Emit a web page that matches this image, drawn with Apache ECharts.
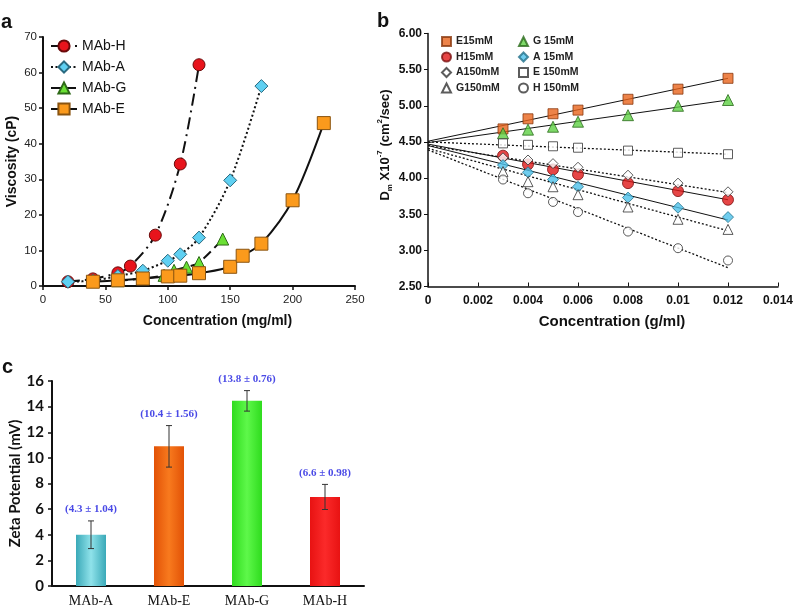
<!DOCTYPE html>
<html>
<head>
<meta charset="utf-8">
<script src="https://cdn.jsdelivr.net/npm/echarts@6/dist/echarts.min.js"></script>
<style>
  html, body { margin: 0; padding: 0; background: #fff; }
  #main { width: 798px; height: 607px; }
</style>
</head>
<body>
<div id="main"></div>
<script>
// panel a: viscosity vs concentration
var viscH_x = [20, 40, 60, 70, 90, 110, 125];
var viscH_y = [1.2, 2.0, 3.7, 5.6, 14.3, 34.3, 62.2];
var viscA_x = [20, 40, 60, 80, 100, 110, 125, 150, 175];
var viscA_y = [1.2, 1.5, 2.8, 4.3, 7.1, 8.9, 13.6, 29.7, 56.2];
var viscG_x = [60, 80, 97, 105, 115, 125, 144];
var viscG_y = [1.5, 2.1, 3.0, 4.4, 5.3, 6.6, 13.2];
var viscE_x = [40, 60, 80, 100, 110, 125, 150, 160, 175, 200, 225];
var viscE_y = [1.2, 1.6, 2.1, 2.7, 2.9, 3.6, 5.4, 8.5, 11.9, 24.1, 45.8];

// panel b: diffusion coefficient vs concentration
var dlsConc = [0.003, 0.004, 0.005, 0.006, 0.008, 0.010, 0.012];
var dE15  = [4.68, 4.82, 4.89, 4.94, 5.09, 5.23, 5.38];
var dG15  = [4.62, 4.67, 4.71, 4.78, 4.87, 5.00, 5.08];
var dE150 = [4.48, 4.46, 4.44, 4.42, 4.38, 4.35, 4.33];
var dH15  = [4.31, 4.19, 4.12, 4.05, 3.93, 3.82, 3.70];
var dA150 = [4.28, 4.25, 4.20, 4.15, 4.04, 3.93, 3.81];
var dA15  = [4.18, 4.08, 3.98, 3.88, 3.73, 3.59, 3.46];
var dG150 = [4.09, 3.95, 3.88, 3.77, 3.60, 3.43, 3.29];
var dH150 = [3.98, 3.79, 3.67, 3.53, 3.26, 3.03, 2.86];
// trend lines, read at x=0 and x=0.012
var fitX = [0, 0.012];
var fitE15  = [4.51, 5.38];
var fitG15  = [4.49, 5.08];
var fitE150 = [4.50, 4.33];
var fitH15  = [4.47, 3.70];
var fitA150 = [4.45, 3.80];
var fitA15  = [4.45, 3.42];
var fitG150 = [4.41, 3.27];
var fitH150 = [4.39, 2.76];

// panel c: zeta potential
var zetaCats = ['MAb-A', 'MAb-E', 'MAb-G', 'MAb-H'];
var zetaVals = [4.0, 10.9, 14.45, 6.95];
var zetaErr = [1.08, 1.62, 0.8, 0.98];
var zetaLabels = ['(4.3 \u00b1 1.04)', '(10.4 \u00b1 1.56)', '(13.8 \u00b1 0.76)', '(6.6 \u00b1 0.98)'];

var SANS = '"Liberation Sans", Arial, sans-serif';

function pairs(xs, ys) {
  var out = [];
  for (var i = 0; i < xs.length; i++) out.push([xs[i], ys[i]]);
  return out;
}

var chart = echarts.init(document.getElementById('main'), null, {renderer: 'canvas'});

var barColors = [
  ['#3aa9b8', '#8fe2ea', '#3aa9b8'],
  ['#e25206', '#f87a1e', '#e25206'],
  ['#2fdc1e', '#5ef84a', '#2fdc1e'],
  ['#e81212', '#fb2a2a', '#e81212']
];
var barData = zetaVals.map(function (v, i) {
  return {
    value: v,
    itemStyle: {
      color: new echarts.graphic.LinearGradient(0, 0, 1, 0, [
        {offset: 0, color: barColors[i][0]},
        {offset: 0.5, color: barColors[i][1]},
        {offset: 1, color: barColors[i][2]}
      ])
    }
  };
});
var errData = zetaVals.map(function (v, i) {
  return [i, v - zetaErr[i], v + zetaErr[i]];
});

function dlsPoints(name, ys, symbol, size, fill, border) {
  return {
    name: name, type: 'scatter', xAxisIndex: 1, yAxisIndex: 1,
    data: pairs(dlsConc, ys), symbol: symbol, symbolSize: size, z: 5,
    itemStyle: {color: fill, borderColor: border, borderWidth: 1}
  };
}
function dlsFit(name, ys, dotted) {
  return {
    name: name, type: 'line', xAxisIndex: 1, yAxisIndex: 1,
    data: pairs(fitX, ys), symbol: 'none', silent: true, z: 3,
    lineStyle: {color: '#111', width: dotted ? 1.3 : 1, type: dotted ? [2, 2] : 'solid'}
  };
}

var option = {
  backgroundColor: '#fff',
  animation: false,
  textStyle: {fontFamily: SANS},
  grid: [
    {left: 43, top: 37, width: 312, height: 249, outerBoundsMode: 'none'},
    {left: 428, top: 33.5, width: 350, height: 253, outerBoundsMode: 'none'},
    {left: 52, top: 381, width: 312, height: 205, outerBoundsMode: 'none'}
  ],
  legend: [
    {
      data: ['MAb-H', 'MAb-A', 'MAb-G', 'MAb-E'],
      orient: 'vertical', left: 45, top: 34, itemGap: 7,
      itemWidth: 26, itemHeight: 14,
      textStyle: {fontFamily: SANS, fontSize: 14, color: '#111'}
    },
    {
      data: ['E15mM', 'H15mM', 'A150mM', 'G150mM'],
      orient: 'vertical', left: 436, top: 31, itemGap: 4.5,
      itemWidth: 9, itemHeight: 9,
      textStyle: {fontFamily: SANS, fontSize: 10.5, fontWeight: 'bold', color: '#222', lineHeight: 11}
    },
    {
      data: ['G 15mM', 'A 15mM', 'E 150mM', 'H 150mM'],
      orient: 'vertical', left: 513, top: 31, itemGap: 4.5,
      itemWidth: 9, itemHeight: 9,
      textStyle: {fontFamily: SANS, fontSize: 10.5, fontWeight: 'bold', color: '#222', lineHeight: 11}
    }
  ],
  xAxis: [
    {
      gridIndex: 0, type: 'value', min: 0, max: 250, interval: 50,
      name: 'Concentration (mg/ml)', nameLocation: 'middle', nameGap: 28,
      nameTextStyle: {fontFamily: SANS, fontSize: 14, fontWeight: 'bold', color: '#111', padding: [0, 0, 0, 37]},
      axisLine: {lineStyle: {color: '#111', width: 2}},
      axisTick: {length: 4, lineStyle: {color: '#111', width: 1.5}},
      axisLabel: {fontSize: 11.5, color: '#222', margin: 8},
      splitLine: {show: false}
    },
    {
      gridIndex: 1, type: 'value', min: 0, max: 0.014, interval: 0.002,
      name: 'Concentration (g/ml)', nameLocation: 'middle', nameGap: 28,
      nameTextStyle: {fontFamily: SANS, fontSize: 15, fontWeight: 'bold', color: '#111', padding: [0, 0, 0, 18]},
      axisLine: {lineStyle: {color: '#111', width: 1.5}},
      axisTick: {inside: true, length: 4, lineStyle: {color: '#111'}},
      axisLabel: {fontSize: 12, fontWeight: 'bold', color: '#111', margin: 8,
        formatter: function (v) { return v === 0 ? '0' : String(+v.toFixed(3)); }},
      splitLine: {show: false}
    },
    {
      gridIndex: 2, type: 'category', data: zetaCats,
      axisLine: {lineStyle: {color: '#111', width: 2}},
      axisTick: {length: 5, lineStyle: {color: '#111', width: 1.5}},
      axisLabel: {fontFamily: '"Liberation Serif", serif', fontSize: 14, color: '#111', margin: 8}
    }
  ],
  yAxis: [
    {
      gridIndex: 0, type: 'value', min: 0, max: 70, interval: 10,
      name: 'Viscosity (cP)', nameLocation: 'middle', nameGap: 24,
      nameTextStyle: {fontFamily: SANS, fontSize: 14, fontWeight: 'bold', color: '#111'},
      axisLine: {show: true, lineStyle: {color: '#111', width: 2}},
      axisTick: {show: true, length: 4, lineStyle: {color: '#111', width: 1.5}},
      axisLabel: {fontSize: 11.5, color: '#222', margin: 6},
      splitLine: {show: false}
    },
    {
      gridIndex: 1, type: 'value', min: 2.5, max: 6, interval: 0.5,
      axisLine: {show: true, lineStyle: {color: '#111', width: 1.5}},
      axisTick: {show: true, length: 4, lineStyle: {color: '#111'}},
      axisLabel: {fontSize: 12, fontWeight: 'bold', color: '#111', margin: 6,
        formatter: function (v) { return v.toFixed(2); }},
      splitLine: {show: false}
    },
    {
      gridIndex: 2, type: 'value', min: 0, max: 16, interval: 2,
      name: 'Zeta Potential (mV)', nameLocation: 'middle', nameGap: 28,
      nameTextStyle: {fontFamily: 'Lato, sans-serif', fontSize: 15, fontWeight: 'bold', color: '#111'},
      axisLine: {show: true, lineStyle: {color: '#111', width: 2}},
      axisTick: {show: true, length: 4, lineStyle: {color: '#111', width: 1.5}},
      axisLabel: {fontFamily: 'Lato, sans-serif', fontSize: 15, fontWeight: 'bold', color: '#111', margin: 8},
      splitLine: {show: false}
    }
  ],
  graphic: [
    {type: 'text', left: 1, top: 12, style: {text: 'a', font: 'bold 20px "Liberation Sans"', fill: '#111'}},
    {type: 'text', left: 377, top: 11, style: {text: 'b', font: 'bold 20px "Liberation Sans"', fill: '#111'}},
    {type: 'text', left: 2, top: 357, style: {text: 'c', font: 'bold 20px "Liberation Sans"', fill: '#111'}},
    {
      type: 'text', x: 385, y: 145, rotation: Math.PI / 2,
      style: {
        text: '{n|D}{s|m}{n| X10}{p|-7}{n| (cm}{p|2}{n|/sec)}',
        align: 'center', verticalAlign: 'middle', fill: '#111',
        rich: {
          n: {fontFamily: SANS, fontSize: 13, fontWeight: 'bold', lineHeight: 18, verticalAlign: 'middle'},
          s: {fontFamily: SANS, fontSize: 8, fontWeight: 'bold', lineHeight: 18, verticalAlign: 'bottom'},
          p: {fontFamily: SANS, fontSize: 8, fontWeight: 'bold', lineHeight: 18, verticalAlign: 'top'}
        }
      }
    }
  ],
  series: [
    {
      name: 'MAb-H', type: 'line', xAxisIndex: 0, yAxisIndex: 0, smooth: 0.3,
      data: pairs(viscH_x, viscH_y), symbol: 'circle', symbolSize: 12,
      lineStyle: {color: '#111', width: 2, type: [12, 5, 2, 5]},
      itemStyle: {color: '#e8141c', borderColor: '#6a0a0a', borderWidth: 1}
    },
    {
      name: 'MAb-A', type: 'line', xAxisIndex: 0, yAxisIndex: 0, smooth: 0.3,
      data: pairs(viscA_x, viscA_y), symbol: 'diamond', symbolSize: 13,
      lineStyle: {color: '#111', width: 2, type: [2, 2.5]},
      itemStyle: {color: '#5fd0f2', borderColor: '#2a6a80', borderWidth: 1}
    },
    {
      name: 'MAb-G', type: 'line', xAxisIndex: 0, yAxisIndex: 0, smooth: 0.3,
      data: pairs(viscG_x, viscG_y), symbol: 'triangle', symbolSize: 12,
      lineStyle: {color: '#111', width: 2, type: [10, 5]},
      itemStyle: {color: '#6ae034', borderColor: '#2e6a18', borderWidth: 1}
    },
    {
      name: 'MAb-E', type: 'line', xAxisIndex: 0, yAxisIndex: 0, smooth: 0.3,
      data: pairs(viscE_x, viscE_y), symbol: 'rect', symbolSize: 13,
      lineStyle: {color: '#111', width: 2},
      itemStyle: {color: '#fb9a1c', borderColor: '#8a5410', borderWidth: 1}
    },

    dlsFit('fitE15', fitE15, false),
    dlsFit('fitG15', fitG15, false),
    dlsFit('fitE150', fitE150, true),
    dlsFit('fitH15', fitH15, false),
    dlsFit('fitA150', fitA150, true),
    dlsFit('fitA15', fitA15, false),
    dlsFit('fitG150', fitG150, true),
    dlsFit('fitH150', fitH150, true),
    dlsPoints('E15mM', dE15, 'rect', 10, '#e8641c', '#8a3a10'),
    dlsPoints('G 15mM', dG15, 'triangle', 11, '#5ed044', '#2a6a1c'),
    dlsPoints('E 150mM', dE150, 'rect', 9, '#fff', '#333'),
    dlsPoints('H15mM', dH15, 'circle', 11, '#e01818', '#7a1010'),
    dlsPoints('A150mM', dA150, 'diamond', 10, '#fff', '#333'),
    dlsPoints('A 15mM', dA15, 'diamond', 11, '#4cc0ea', '#23708a'),
    dlsPoints('G150mM', dG150, 'triangle', 10, '#fff', '#333'),
    dlsPoints('H 150mM', dH150, 'circle', 9, '#fff', '#333'),

    {
      name: 'zeta', type: 'bar', xAxisIndex: 2, yAxisIndex: 2,
      barWidth: 30, data: barData
    },
    {
      name: 'zetaErr', type: 'custom', xAxisIndex: 2, yAxisIndex: 2, z: 4,
      data: errData, encode: {x: 0, y: [1, 2]},
      renderItem: function (params, api) {
        var lo = api.coord([api.value(0), api.value(1)]);
        var hi = api.coord([api.value(0), api.value(2)]);
        var cap = 3;
        var st = {stroke: '#333', lineWidth: 1};
        return {
          type: 'group',
          children: [
            {type: 'line', shape: {x1: lo[0], y1: lo[1], x2: hi[0], y2: hi[1]}, style: st},
            {type: 'line', shape: {x1: lo[0] - cap, y1: lo[1], x2: lo[0] + cap, y2: lo[1]}, style: st},
            {type: 'line', shape: {x1: hi[0] - cap, y1: hi[1], x2: hi[0] + cap, y2: hi[1]}, style: st},
            {
              type: 'text',
              style: {
                text: zetaLabels[params.dataIndex], x: hi[0], y: hi[1] - 6,
                align: 'center', verticalAlign: 'bottom', fill: '#4a4ae6',
                font: 'bold 11px "Liberation Serif"'
              }
            }
          ]
        };
      }
    }
  ]
};

chart.setOption(option);
</script>
</body>
</html>
